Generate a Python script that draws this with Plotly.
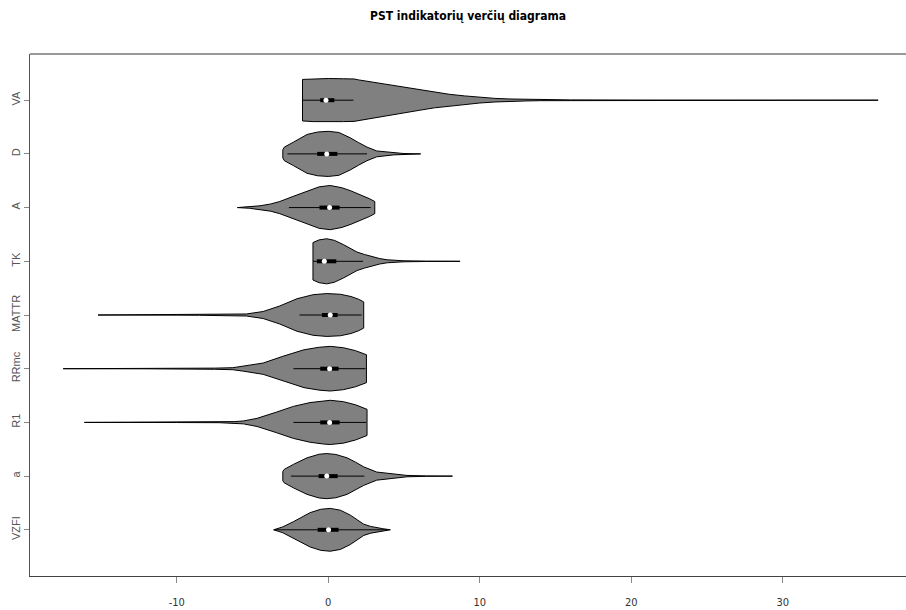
import plotly.graph_objects as go

# ---------------- data ----------------
categories = ["VZFI", "a", "R1", "RRmc", "MATTR", "TK", "A", "D", "VA"]  # bottom -> top

# density profiles: x positions and relative half-widths (1.0 = widest)
va_x = [-1.7, -1.0, 0.0, 1.0, 1.7, 2.0, 3.0, 4.0, 5.0, 6.0, 7.0, 8.0, 9.0, 10.0, 11.0, 12.0, 13.0, 14.0, 16.0, 20.0, 36.3]
va_d = [0.92, 0.95, 0.96, 0.95, 0.94, 0.90, 0.79, 0.68, 0.56, 0.45, 0.34, 0.26, 0.19, 0.125, 0.08, 0.053, 0.035, 0.022, 0.013, 0.007, 0.0]

d_x = [-3.0, -2.9, -2.3, -1.4, -0.7, 0.0, 0.7, 1.46, 2.0, 2.56, 3.2, 4.3, 5.0, 6.1]
d_d = [0.18, 0.30, 0.52, 0.86, 0.97, 1.0, 0.95, 0.71, 0.50, 0.30, 0.13, 0.045, 0.015, 0.0]

a_x = [-6.0, -5.2, -4.5, -3.8, -3.2, -2.3, -1.4, -0.6, 0.13, 0.9, 1.5, 2.1, 2.7, 3.07]
a_d = [0.0, 0.03, 0.08, 0.16, 0.27, 0.50, 0.72, 0.92, 0.98, 0.88, 0.74, 0.58, 0.40, 0.27]

tk_x = [-1.01, -0.6, -0.1, 0.4, 1.0, 1.5, 1.9, 2.4, 2.8, 3.4, 3.9, 5.0, 6.5, 8.7]
tk_d = [0.83, 0.95, 1.0, 0.93, 0.74, 0.56, 0.41, 0.30, 0.22, 0.12, 0.066, 0.022, 0.008, 0.0]

mattr_x = [-15.2, -10.0, -8.5, -6.5, -5.4, -4.3, -3.2, -2.07, -1.0, -0.1, 0.8, 1.5, 2.0, 2.34]
mattr_d = [0.0, 0.006, 0.012, 0.025, 0.045, 0.155, 0.40, 0.72, 0.90, 0.95, 0.92, 0.82, 0.70, 0.58]

rrmc_x = [-17.5, -12.0, -9.6, -7.5, -6.3, -5.6, -4.3, -3.0, -1.6, -0.6, 0.13, 1.0, 1.8, 2.52]
rrmc_d = [0.0, 0.005, 0.012, 0.025, 0.045, 0.11, 0.25, 0.55, 0.84, 0.95, 0.99, 0.93, 0.80, 0.62]

r1_x = [-16.1, -10.0, -7.2, -6.2, -5.6, -4.7, -3.4, -2.3, -1.2, -0.3, 0.13, 1.0, 1.8, 2.56]
r1_d = [0.0, 0.005, 0.013, 0.035, 0.065, 0.18, 0.46, 0.71, 0.88, 0.96, 0.98, 0.92, 0.78, 0.58]

aa_x = [-3.0, -2.9, -2.3, -1.4, -0.6, -0.1, 0.5, 1.24, 1.8, 2.34, 3.2, 4.3, 5.2, 6.5, 8.2]
aa_d = [0.21, 0.30, 0.52, 0.81, 0.97, 1.0, 0.96, 0.81, 0.62, 0.41, 0.18, 0.09, 0.03, 0.01, 0.0]

vzfi_x = [-3.6, -3.0, -2.3, -1.8, -1.2, -0.5, 0.13, 0.8, 1.46, 1.9, 2.34, 2.8, 3.2, 3.6, 4.1]
vzfi_d = [0.0, 0.13, 0.36, 0.55, 0.76, 0.91, 0.95, 0.87, 0.65, 0.45, 0.25, 0.15, 0.09, 0.05, 0.0]

profiles_x = [vzfi_x, aa_x, r1_x, rrmc_x, mattr_x, tk_x, a_x, d_x, va_x]
profiles_d = [vzfi_d, aa_d, r1_d, rrmc_d, mattr_d, tk_d, a_d, d_d, va_d]

# box statistics: lower whisker, q1, median, q3, upper whisker
whisker_lo = [-3.6, -2.47, -2.3, -2.3, -1.9, -1.0, -2.6, -2.7, -1.7]
q1 = [-0.70, -0.64, -0.53, -0.53, -0.42, -0.75, -0.58, -0.73, -0.53]
median = [0.02, -0.10, 0.09, 0.09, 0.13, -0.26, 0.09, -0.10, -0.15]
q3 = [0.68, 0.62, 0.75, 0.68, 0.62, 0.53, 0.75, 0.60, 0.40]
whisker_hi = [3.9, 2.38, 2.5, 2.45, 2.2, 2.3, 2.8, 2.56, 1.66]

x_ticks = [-10, 0, 10, 20, 30]
title_text = "PST indikatorių verčių diagrama"

# ---------------- styling ----------------
HALF = 0.42
FILL = "#808080"
NARROW = "Liberation Sans Narrow, DejaVu Sans Condensed, Arial, sans-serif"

fig = go.Figure()

for i, name in enumerate(categories):
    c = i + 1
    xs = profiles_x[i]
    ds = profiles_d[i]
    px = list(xs) + list(reversed(xs)) + [xs[0]]
    py = [c + d * HALF for d in ds] + [c - d * HALF for d in reversed(ds)] + [c + ds[0] * HALF]
    fig.add_trace(go.Scatter(x=px, y=py, mode="lines", fill="toself", fillcolor=FILL,
                             line=dict(color="black", width=1), hoverinfo="skip",
                             showlegend=False))
    fig.add_trace(go.Scatter(x=[whisker_lo[i], whisker_hi[i]], y=[c, c], mode="lines",
                             line=dict(color="black", width=1), showlegend=False,
                             hoverinfo="skip"))
    fig.add_trace(go.Scatter(x=[q1[i], q3[i]], y=[c, c], mode="lines",
                             line=dict(color="black", width=4), showlegend=False,
                             hoverinfo="skip"))
    fig.add_trace(go.Scatter(x=[median[i]], y=[c], mode="markers",
                             marker=dict(color="white", size=5, line=dict(width=0)),
                             showlegend=False, name=name))

fig.update_layout(
    width=906, height=610,
    margin=dict(l=30, r=0, t=54, b=34),
    paper_bgcolor="white", plot_bgcolor="white",
    title=dict(text="<b>" + title_text + "</b>", x=0.5, xref="paper",
               y=1 - 16 / 610, yref="container", xanchor="center", yanchor="middle",
               font=dict(family=NARROW, size=12, color="black")),
    xaxis=dict(range=[-19.69, 38.14], tickvals=x_ticks, ticktext=[str(t) for t in x_ticks],
               showgrid=False, zeroline=False, showline=True, linecolor="#444444",
               linewidth=1, ticks="outside", ticklen=6, tickcolor="#888888",
               ticklabelstandoff=10,
               tickfont=dict(family=NARROW, size=11, color="#333333")),
    yaxis=dict(range=[0.14, 9.86], tickvals=list(range(1, len(categories) + 1)),
               ticktext=categories, tickangle=-90, showgrid=False, zeroline=False,
               showline=True, linecolor="#555555", linewidth=1, ticks="outside",
               ticklen=5, tickcolor="#888888",
               tickfont=dict(family="Liberation Sans, Arial, sans-serif", size=11,
                             color="#555555")),
)

# top frame line (box border)
fig.add_shape(type="line", xref="paper", yref="paper", x0=0, x1=1, y0=1, y1=1,
              line=dict(color="#333333", width=1))

fig.write_html("out.html")
